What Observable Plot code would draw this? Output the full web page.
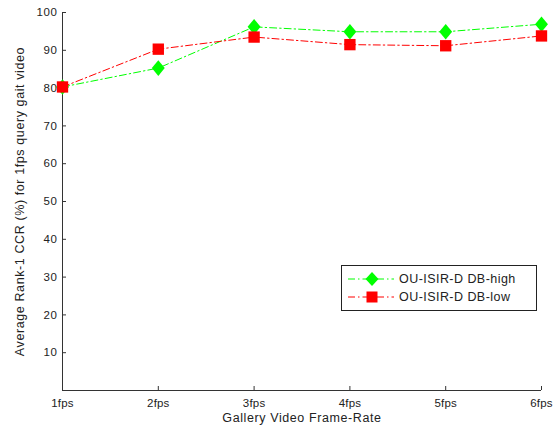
<!DOCTYPE html>
<html>
<head>
<meta charset="utf-8">
<script src="https://cdn.jsdelivr.net/npm/d3@7"></script>
<script src="https://cdn.jsdelivr.net/npm/@observablehq/plot@0.6"></script>
<style>
  html, body { margin: 0; padding: 0; background: #fff; }
  #wrap { position: relative; width: 554px; height: 431px; font-family: "Liberation Sans", Arial, sans-serif; }
  #legend { position: absolute; left: 341px; top: 265px; width: 194px; height: 44px; border: 1px solid #222; background: #fff; font-size: 12.5px; letter-spacing: 0.45px; color: #222; }
  #legend .row { position: absolute; left: 0; height: 18px; display: flex; align-items: center; white-space: nowrap; }
  #legend svg { display: block; }
  #legend span { margin-left: 3px; }
  g[aria-label="x-axis tick label"] { letter-spacing: 0.2px; }
  g[aria-label="y-axis tick label"] { letter-spacing: 0.6px; }
</style>
</head>
<body>
<div id="wrap"></div>
<script>
const frameRates = [1, 2, 3, 4, 5, 6];
const tickLabels = ["1fps", "2fps", "3fps", "4fps", "5fps", "6fps"];
const seriesNames = ["OU-ISIR-D DB-high", "OU-ISIR-D DB-low"];
const dbHigh = [80.3, 85.3, 96.2, 94.9, 94.9, 96.9];
const dbLow = [80.3, 90.3, 93.5, 91.5, 91.2, 93.8];
const yTicks = [10, 20, 30, 40, 50, 60, 70, 80, 90, 100];
const xLabel = "Gallery Video Frame-Rate";
const yLabel = "Average Rank-1 CCR (%) for 1fps query gait video";

const colors = ["#00ff00", "#ff0000"];
const rows = [];
frameRates.forEach((f, i) => {
  rows.push({fr: f, v: dbHigh[i], s: seriesNames[0]});
  rows.push({fr: f, v: dbLow[i], s: seriesNames[1]});
});

const diamond = {
  draw(context, size) {
    const r = Math.sqrt(size / Math.PI);
    context.moveTo(0, -r * 1.15);
    context.lineTo(r * 0.95, 0);
    context.lineTo(0, r * 1.15);
    context.lineTo(-r * 0.95, 0);
    context.closePath();
  }
};

const font = "Liberation Sans, Arial, sans-serif";
const chart = Plot.plot({
  width: 554,
  height: 431,
  marginTop: 12,
  marginRight: 13,
  marginBottom: 41,
  marginLeft: 62,
  style: {fontFamily: font, fontSize: "11.5px", color: "#222", background: "#fff", letterSpacing: "0.6px"},
  x: {domain: [1, 6], label: null},
  y: {domain: [0, 100], label: null},
  color: {domain: seriesNames, range: colors},
  marks: [
    Plot.ruleX([1], {stroke: "#333", strokeWidth: 1}),
    Plot.ruleY([0], {stroke: "#333", strokeWidth: 1}),
    Plot.axisX(frameRates, {tickSize: -4, tickPadding: 12, stroke: "#333", fill: "#222", fontSize: 11.5, tickFormat: (d, i) => tickLabels[i], label: null}),
    Plot.axisY(yTicks, {tickSize: -4, tickPadding: 9, stroke: "#333", fill: "#222", fontSize: 11.5, label: null}),
    Plot.text([xLabel], {frameAnchor: "bottom", dy: 31, fill: "#222", fontSize: 12.5, textAnchor: "middle"}),
    Plot.text([yLabel], {frameAnchor: "left", rotate: -90, dx: -43, fill: "#222", fontSize: 12.5, textAnchor: "middle"}),
    Plot.line(rows.filter(d => d.s === seriesNames[0]), {x: "fr", y: "v", stroke: colors[0], strokeWidth: 1, strokeDasharray: "7,3,1.5,3"}),
    Plot.line(rows.filter(d => d.s === seriesNames[1]), {x: "fr", y: "v", stroke: colors[1], strokeWidth: 1, strokeDasharray: "7,3,1.5,3"}),
    Plot.dot(rows.filter(d => d.s === seriesNames[0]), {x: "fr", y: "v", symbol: diamond, r: 6.8, fill: colors[0], stroke: "none"}),
    Plot.dot(rows.filter(d => d.s === seriesNames[1]), {x: "fr", y: "v", symbol: "square", r: 6.4, fill: colors[1], stroke: "none"})
  ]
});

const wrap = document.getElementById("wrap");
wrap.appendChild(chart);

const legend = document.createElement("div");
legend.id = "legend";
seriesNames.forEach((name, i) => {
  const row = document.createElement("div");
  row.className = "row";
  row.style.top = (i === 0 ? 4 : 22) + "px";
  const marker = i === 0
    ? `<path d="M30,2 L36.5,9 L30,16 L23.5,9 Z" fill="${colors[i]}"/>`
    : `<rect x="24.5" y="3.5" width="11" height="11" fill="${colors[i]}"/>`;
  row.innerHTML = `<svg width="54" height="18"><line x1="6" x2="52" y1="9" y2="9" stroke="${colors[i]}" stroke-width="1" stroke-dasharray="7,3,1.5,3"/>${marker}</svg><span>${name}</span>`;
  legend.appendChild(row);
});
wrap.appendChild(legend);
</script>
</body>
</html>
